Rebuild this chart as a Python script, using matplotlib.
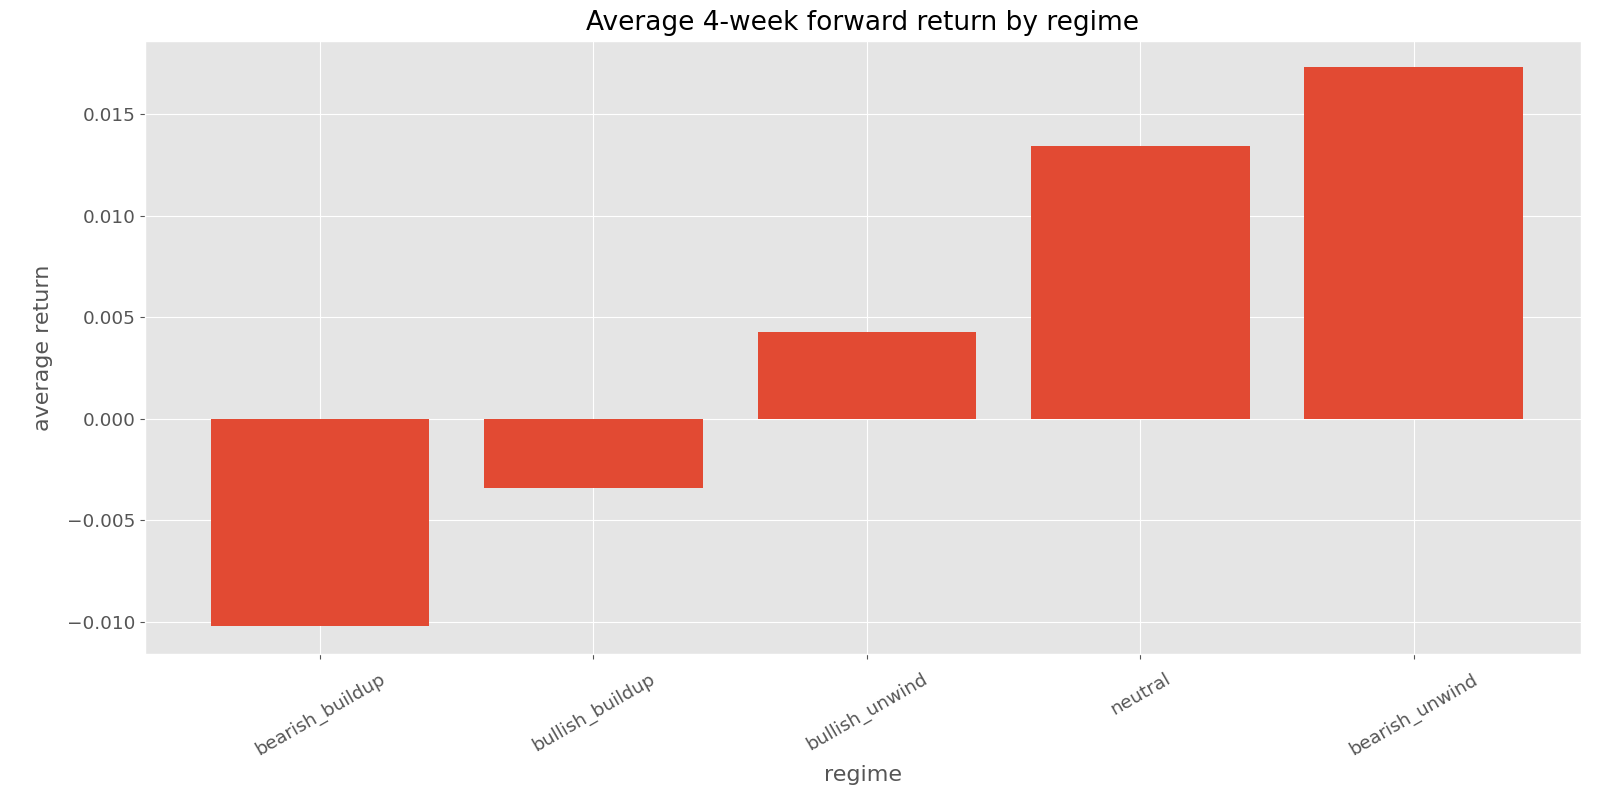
import matplotlib
matplotlib.use("Agg")
import matplotlib.pyplot as plt

plt.style.use("ggplot")

regimes = ["bearish_buildup", "bullish_buildup", "bullish_unwind", "neutral", "bearish_unwind"]
avg_ret = [-0.01023, -0.00340, 0.00426, 0.01342, 0.01733]

fig = plt.figure(figsize=(16.13, 7.94), dpi=100)
ax = fig.add_axes([0.0899, 0.176, 0.890, 0.772])
ax.bar(regimes, avg_ret, width=0.8, color="#E24A33")
ax.set_xlim(-0.64, 4.61)
ax.set_ylim(-0.0116, 0.0186)
ax.set_title("Average 4-week forward return by regime", fontsize=19, pad=8)
ax.set_xlabel("regime", fontsize=16)
ax.set_ylabel("average return", fontsize=16, labelpad=10)
ax.tick_params(axis="both", labelsize=13.3)
ax.tick_params(axis="x", pad=8)
plt.setp(ax.get_xticklabels(), rotation=30)

fig.savefig("out.png", dpi=100)
